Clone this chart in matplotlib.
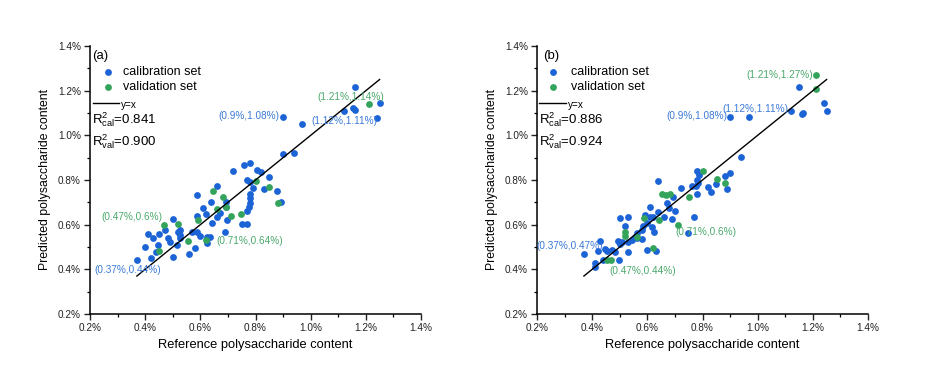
import matplotlib
matplotlib.use("Agg")
import matplotlib.pyplot as plt
from matplotlib.ticker import MultipleLocator, FuncFormatter

plt.rcParams['font.family'] = ['Liberation Sans', 'DejaVu Sans']
plt.rcParams['mathtext.fontset'] = 'custom'
plt.rcParams['mathtext.rm'] = 'Liberation Sans'
plt.rcParams['mathtext.it'] = 'Liberation Sans:italic'

# ---------------- data (values in %) ----------------
# Panel (a)
a_cal_ref = [0.37, 0.42, 0.40, 0.41, 0.43, 0.438, 0.448, 0.451, 0.472, 0.482, 0.49, 0.50, 0.50,
             0.514, 0.518, 0.526, 0.526, 0.526, 0.56, 0.569, 0.581, 0.587, 0.589, 0.589, 0.599,
             0.611, 0.62, 0.623, 0.623, 0.635, 0.639, 0.641, 0.659, 0.659, 0.671, 0.692, 0.696,
             0.689, 0.693, 0.72, 0.75, 0.768, 0.768, 0.78, 0.759, 0.804, 0.78, 0.78, 0.78, 0.777,
             0.77, 0.78, 0.79, 0.82, 0.831, 0.849, 0.879, 0.891, 0.901, 0.94, 0.90, 0.97, 1.12,
             1.152, 1.162, 1.161, 1.251, 1.242]
a_cal_pred = [0.44, 0.45, 0.50, 0.56, 0.54, 0.479, 0.509, 0.558, 0.576, 0.539, 0.524, 0.624, 0.454,
              0.509, 0.569, 0.554, 0.539, 0.576, 0.469, 0.566, 0.497, 0.569, 0.734, 0.64, 0.551,
              0.673, 0.648, 0.546, 0.519, 0.546, 0.703, 0.606, 0.775, 0.633, 0.651, 0.703, 0.621,
              0.569, 0.681, 0.842, 0.602, 0.602, 0.80, 0.878, 0.867, 0.845, 0.737, 0.718, 0.698, 0.68,
              0.661, 0.792, 0.766, 0.837, 0.758, 0.812, 0.752, 0.70, 0.917, 0.922, 1.08, 1.051, 1.11,
              1.121, 1.114, 1.215, 1.146, 1.078]
a_val_ref = [0.47, 0.45, 0.518, 0.556, 0.59, 0.621, 0.647, 0.659, 0.681, 0.692, 0.71, 0.749,
             0.801, 0.85, 0.88, 1.21]
a_val_pred = [0.60, 0.483, 0.602, 0.528, 0.621, 0.531, 0.752, 0.669, 0.725, 0.68, 0.64, 0.646,
              0.797, 0.767, 0.696, 1.14]

# Panel (b)
b_cal_ref = [0.37, 0.41, 0.41, 0.422, 0.428, 0.447, 0.455, 0.471, 0.483, 0.44, 0.495, 0.501, 0.507,
             0.498, 0.501, 0.531, 0.519, 0.531, 0.531, 0.543, 0.555, 0.561, 0.561, 0.58, 0.58,
             0.585, 0.592, 0.598, 0.60, 0.61, 0.61, 0.622, 0.618, 0.624, 0.631, 0.64, 0.64, 0.662,
             0.67, 0.679, 0.691, 0.694, 0.70, 0.721, 0.749, 0.761, 0.77, 0.776, 0.779, 0.787, 0.779,
             0.785, 0.781, 0.821, 0.831, 0.849, 0.882, 0.90, 0.89, 0.94, 0.90, 0.97, 1.12, 1.15,
             1.161, 1.165, 1.241, 1.251]
b_cal_pred = [0.47, 0.43, 0.41, 0.482, 0.528, 0.49, 0.482, 0.487, 0.479, 0.44, 0.527, 0.513, 0.524,
              0.442, 0.629, 0.636, 0.594, 0.524, 0.479, 0.531, 0.546, 0.561, 0.539, 0.535, 0.576,
              0.594, 0.643, 0.606, 0.487, 0.681, 0.636, 0.636, 0.591, 0.569, 0.482, 0.796, 0.658,
              0.633, 0.696, 0.673, 0.624, 0.725, 0.663, 0.763, 0.564, 0.775, 0.636, 0.773, 0.842,
              0.822, 0.80, 0.785, 0.737, 0.77, 0.745, 0.781, 0.818, 0.83, 0.758, 0.903, 1.08, 1.08,
              1.11, 1.218, 1.094, 1.10, 1.144, 1.109]
b_val_ref = [0.47, 0.455, 0.519, 0.519, 0.561, 0.589, 0.622, 0.642, 0.652, 0.668, 0.682, 0.71,
             0.752, 0.801, 0.852, 0.882, 1.211, 1.21]
b_val_pred = [0.44, 0.44, 0.566, 0.549, 0.546, 0.629, 0.497, 0.621, 0.736, 0.733, 0.736, 0.60,
              0.722, 0.842, 0.805, 0.785, 1.208, 1.27]

line_range = [0.37, 1.25]
r2_a = ("0.841", "0.900")
r2_b = ("0.886", "0.924")

ticks = [0.2, 0.4, 0.6, 0.8, 1.0, 1.2, 1.4]

# annotations: (label, colour key, text x, text y)
ann_a = [("(0.9%,1.08%)", "b", 0.665, 1.087),
         ("(1.12%,1.11%)", "b", 1.004, 1.064),
         ("(1.21%,1.14%)", "g", 1.026, 1.170),
         ("(0.47%,0.6%)", "g", 0.240, 0.633),
         ("(0.71%,0.64%)", "g", 0.659, 0.527),
         ("(0.37%,0.44%)", "b", 0.215, 0.397)]
ann_b = [("(0.9%,1.08%)", "b", 0.670, 1.087),
         ("(1.12%,1.11%)", "b", 0.872, 1.118),
         ("(1.21%,1.27%)", "g", 0.960, 1.270),
         ("(0.37%,0.47%)", "b", 0.199, 0.505),
         ("(0.47%,0.44%)", "g", 0.461, 0.394),
         ("(0.71%,0.6%)", "g", 0.703, 0.569)]

BLUE = '#1c63d6'
GREEN = '#34a35c'
TBLUE = '#3b79d6'
TGREEN = '#4aa86c'
MS = 24

fig = plt.figure(figsize=(9.4, 3.79), dpi=100)
W, H = 940, 379


def make_ax(x0, x1, y_top=46, y_bot=314):
    return fig.add_axes([x0 / W, 1 - y_bot / H, (x1 - x0) / W, (y_bot - y_top) / H])


def panel(ax, cal_x, cal_y, val_x, val_y, r2, letter, anns, leg):
    ax.scatter(cal_x, cal_y, s=MS, color=BLUE, linewidths=0, zorder=3)
    ax.scatter(val_x, val_y, s=MS, color=GREEN, linewidths=0, zorder=4)
    ax.plot(line_range, line_range, color='black', lw=1.0, zorder=5)
    ax.set_xlim(0.2, 1.4)
    ax.set_ylim(0.2, 1.4)
    ax.set_xticks(ticks)
    ax.set_yticks(ticks)
    fmt = FuncFormatter(lambda v, p: f"{v:.1f}%")
    ax.xaxis.set_major_formatter(fmt)
    ax.yaxis.set_major_formatter(fmt)
    ax.xaxis.set_minor_locator(MultipleLocator(0.1))
    ax.yaxis.set_minor_locator(MultipleLocator(0.1))
    for s in ['top', 'right']:
        ax.spines[s].set_visible(False)
    for s in ['left', 'bottom']:
        ax.spines[s].set_linewidth(1.1)
    ax.tick_params(which='major', direction='out', length=4.5, width=1.0, labelsize=7.2,
                   colors='#222222', pad=2)
    ax.tick_params(which='minor', direction='out', length=2.5, width=0.9)
    ax.set_xlabel("Reference polysaccharide content", fontsize=9.3, labelpad=4)
    ax.set_ylabel("Predicted polysaccharide content", fontsize=8.8, labelpad=5)

    lx_letter, lx_mark, lx_text, lx_l0, lx_l1 = leg
    tr = ax.transAxes
    ax.text(lx_letter, 0.964, letter, transform=tr, fontsize=9.5, va='center', ha='left')
    ax.scatter([lx_mark], [0.904], s=MS, color=BLUE, linewidths=0, transform=tr, clip_on=False)
    ax.scatter([lx_mark], [0.846], s=MS, color=GREEN, linewidths=0, transform=tr, clip_on=False)
    ax.text(lx_text, 0.904, "calibration set", transform=tr, fontsize=9, va='center', ha='left')
    ax.text(lx_text, 0.846, "validation set", transform=tr, fontsize=9, va='center', ha='left')
    ax.plot([lx_l0, lx_l1], [0.786, 0.786], color='black', lw=1.0, transform=tr, clip_on=False)
    ax.text(lx_l1 + 0.006, 0.78, "y=x", transform=tr, fontsize=7.2, va='center', ha='left')
    ax.text(lx_l0 - 0.002, 0.724, r"$\mathrm{R}^{2}_{\mathrm{cal}}$=" + r2[0], transform=tr,
            fontsize=9.5, va='center', ha='left')
    ax.text(lx_l0 - 0.002, 0.643, r"$\mathrm{R}^{2}_{\mathrm{val}}$=" + r2[1], transform=tr,
            fontsize=9.5, va='center', ha='left')

    for lab, c, tx, ty in anns:
        ax.text(tx, ty, lab, color=TBLUE if c == 'b' else TGREEN, fontsize=7.2,
                va='center', ha='left', zorder=6, clip_on=False)


ax_a = make_ax(90, 421)
ax_b = make_ax(537, 868)
panel(ax_a, a_cal_ref, a_cal_pred, a_val_ref, a_val_pred, r2_a, "(a)", ann_a,
      (0.006, 0.054, 0.101, 0.008, 0.089))
panel(ax_b, b_cal_ref, b_cal_pred, b_val_ref, b_val_pred, r2_b, "(b)", ann_b,
      (0.019, 0.049, 0.103, 0.007, 0.088))

fig.savefig("out.png", dpi=100)
